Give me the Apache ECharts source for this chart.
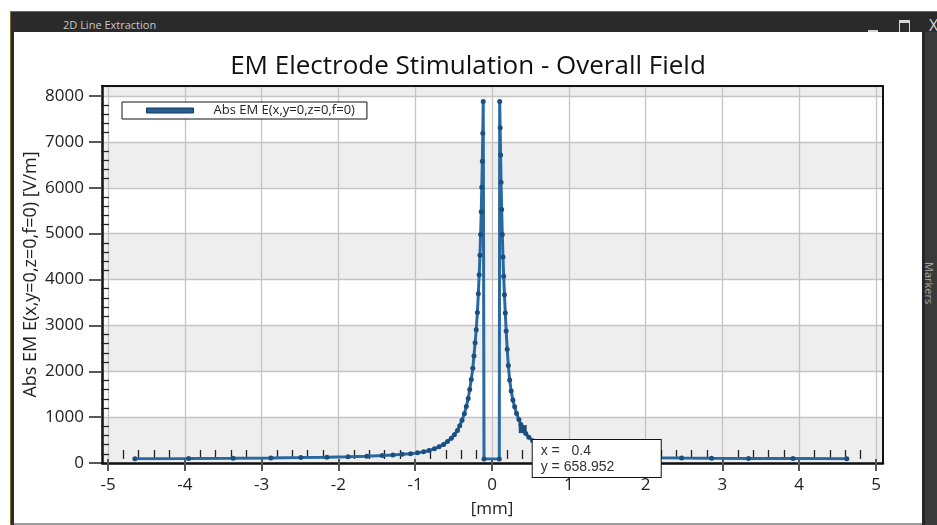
<!DOCTYPE html>
<html>
<head>
<meta charset="utf-8">
<title>2D Line Extraction</title>
<script src="https://cdn.jsdelivr.net/npm/echarts@6/dist/echarts.min.js"></script>
<style>
html, body { margin: 0; padding: 0; width: 937px; height: 525px; overflow: hidden; background: #fff; font-family: "Open Sans", sans-serif; }
#frame { position: absolute; left: 10px; top: 11px; width: 927px; height: 514px; background: #2a2a2a; border-top: 1px solid #7a6f2e; border-left: 1px solid #7a6f2e; box-sizing: border-box; }
#caption { position: absolute; left: 63px; top: 17px; color: #c8c8c8; font-size: 11px; }
#btnMin { position: absolute; left: 868px; top: 30px; width: 10px; height: 2px; background: #d6d6d6; }
#btnMax { position: absolute; left: 899px; top: 20px; width: 9px; height: 9px; border: 1.5px solid #d6d6d6; border-top-width: 3px; }
#btnClose { position: absolute; left: 929px; top: 14px; color: #d6d6d6; font-size: 16px; }
#side { position: absolute; left: 922px; top: 32px; width: 15px; height: 493px; background: #3a3a3a; border-left: 3px solid #262626; box-sizing: border-box; }
#sideText { position: absolute; left: 937px; top: 262px; transform-origin: 0 0; transform: rotate(90deg); color: #a8a8a8; font-size: 11px; white-space: nowrap; }
#main { position: absolute; left: 14px; top: 32px; width: 908px; height: 491px; background: #fff; }
#bottomLine { position: absolute; left: 14px; top: 523px; width: 908px; height: 2px; background: #9c9c9c; }
</style>
</head>
<body>
<div id="frame"></div>
<div id="caption">2D Line Extraction</div>
<div id="btnMin"></div>
<div id="btnMax"></div>
<div id="btnClose">X</div>
<div id="side"></div>
<div id="sideText">Markers</div>
<div id="main"></div>
<div id="bottomLine"></div>
<script>
var chartTitle = 'EM Electrode Stimulation - Overall Field';
var seriesName = 'Abs EM E(x,y=0,z=0,f=0)';
var yName = 'Abs EM E(x,y=0,z=0,f=0) [V/m]';
var xName = '[mm]';

// positions along the line [mm]
var xValues = [
    -4.65, -3.95, -3.37, -2.88, -2.49, -2.15, -1.875, -1.63, -1.43, -1.29,
    -1.17, -1.06, -0.97, -0.89, -0.82, -0.75, -0.69, -0.63, -0.58, -0.53,
    -0.49, -0.45, -0.42, -0.39, -0.36, -0.335, -0.31, -0.29, -0.27, -0.25,
    -0.235, -0.22, -0.205, -0.19, -0.178, -0.167, -0.157, -0.148, -0.14, -0.133,
    -0.126, -0.12, -0.114, -0.104,
    0.095, 0.1, 0.106, 0.112, 0.118, 0.126, 0.134, 0.143, 0.152, 0.162,
    0.173, 0.185, 0.198, 0.213, 0.23, 0.25, 0.272, 0.295, 0.32, 0.35,
    0.375, 0.4, 0.44, 0.48, 0.53, 0.58, 0.63, 0.69, 0.75, 0.82,
    0.89, 0.97, 1.06, 1.17, 1.29, 1.43, 1.63, 1.875, 2.15, 2.47,
    2.86, 3.34, 3.92, 4.62
];
// |E| [V/m]
var yValues = [
    8, 12, 17, 24, 31, 40, 50, 62, 76, 89,
    103, 118, 135, 158, 188, 224, 268, 322, 385, 458,
    535, 630, 735, 855, 995, 1155, 1335, 1530, 1750, 2000,
    2270, 2560, 2850, 3230, 3640, 4060, 4490, 4950, 5450, 5990,
    6560, 7180, 7880, 0,
    0, 7880, 7300, 6700, 6100, 5500, 4950, 4450, 4030, 3620,
    3220, 2820, 2420, 2060, 1740, 1500, 1300, 1150, 1000, 870,
    760, 658.952, 560, 480, 400, 335, 285, 240, 200, 168,
    140, 118, 100, 85, 72, 60, 48, 38, 30, 24,
    18, 13, 9, 6
];
var markX = 0.4;
var markY = 658.952;

var font = '"Open Sans", sans-serif';
var pts = [];
for (var i = 0; i < xValues.length; i++) {
    pts.push([xValues[i], yValues[i]]);
}

var chart = echarts.init(document.getElementById('main'));
var option = {
    animation: false,
    title: {
        text: chartTitle,
        left: 'center',
        top: 17,
        textStyle: { fontSize: 26, fontWeight: 'normal', color: '#111', fontFamily: font }
    },
    legend: {
        left: 108,
        top: 70,
        data: [{
            name: seriesName,
            icon: 'rect',
            itemStyle: { color: '#2a5f8f', borderColor: '#123a5e', borderWidth: 1 }
        }],
        itemWidth: 47,
        itemHeight: 5,
        padding: [2, 12, 2, 24],
        backgroundColor: '#fff',
        borderColor: '#111',
        borderWidth: 1,
        borderRadius: 0,
        textStyle: { fontSize: 13, color: '#222', fontFamily: font, padding: [0, 0, 0, 15] }
    },
    grid: [
        { left: 87, right: 39, top: 54, bottom: 60 },
        { left: 94, right: 46, top: 54, bottom: 60 },
        { left: 87, right: 39, top: 64, bottom: 60 }
    ],
    xAxis: [
        {
            gridIndex: 0, type: 'value', min: -5.1, max: 5.1, z: 1,
            axisLine: { onZero: false, lineStyle: { color: '#111', width: 2.5 } },
            axisTick: { show: false }, axisLabel: { show: false }, splitLine: { show: false }
        },
        {
            gridIndex: 0, type: 'value', position: 'top', min: -5.1, max: 5.1, z: 1,
            axisLine: { onZero: false, lineStyle: { color: '#111', width: 2 } },
            axisTick: { show: false }, axisLabel: { show: false }, splitLine: { show: false }
        },
        {
            gridIndex: 1, type: 'value', min: -5, max: 5, interval: 1, z: 1,
            axisLine: { show: false, onZero: false },
            axisTick: { show: true, length: 12, lineStyle: { color: '#555', width: 2 } },
            minorTick: { show: true, splitNumber: 5, length: -9, lineStyle: { color: '#222', width: 1.3 } },
            axisLabel: { margin: 18, fontSize: 17, color: '#222', fontFamily: font },
            splitLine: { show: true, lineStyle: { color: '#c4c4c4', width: 1.3 } },
            name: xName, nameLocation: 'middle', nameGap: 42,
            nameTextStyle: { fontSize: 17, color: '#222', fontFamily: font }
        },
        { gridIndex: 2, type: 'value', min: -5.1, max: 5.1, show: false }
    ],
    yAxis: [
        {
            gridIndex: 0, type: 'value', min: 0, max: 8220, interval: 1000, z: 0,
            axisLine: { show: true, onZero: false, lineStyle: { color: '#111', width: 2.5 } },
            axisTick: { show: false }, axisLabel: { show: false },
            splitLine: { show: true, lineStyle: { color: '#c4c4c4', width: 1.3 } },
            splitArea: { show: true, areaStyle: { color: ['#eeeeee', '#ffffff'] } },
            name: yName, nameLocation: 'middle', nameGap: 62,
            nameTextStyle: { fontSize: 18, color: '#222', fontFamily: font }
        },
        {
            gridIndex: 0, type: 'value', position: 'right', min: 0, max: 8220, z: 1,
            axisLine: { show: true, onZero: false, lineStyle: { color: '#111', width: 2 } },
            axisTick: { show: false }, axisLabel: { show: false }, splitLine: { show: false }
        },
        { gridIndex: 1, type: 'value', min: 0, max: 8220, show: false },
        {
            gridIndex: 2, type: 'value', min: 0, max: 8000, interval: 1000, z: 1,
            axisLine: { show: false, onZero: false },
            axisTick: { show: true, length: 12, lineStyle: { color: '#222', width: 1.5 } },
            minorTick: { show: true, splitNumber: 5, length: -8, lineStyle: { color: '#222', width: 1.3 } },
            axisLabel: {
                margin: 17, fontSize: 17, color: '#222', fontFamily: font,
                formatter: function (v) { return String(v); }
            },
            splitLine: { show: false }
        }
    ],
    series: [{
        name: seriesName,
        type: 'line',
        xAxisIndex: 2,
        yAxisIndex: 2,
        data: pts,
        symbol: 'circle',
        symbolSize: 5,
        showSymbol: true,
        lineStyle: { color: '#2a68a0', width: 3 },
        itemStyle: { color: '#1b4f80' },
        markPoint: {
            symbol: 'rect',
            symbolSize: 8,
            itemStyle: { color: '#1b4f80' },
            data: [{ coord: [markX, markY], value: markY }],
            label: {
                show: true,
                position: [14, 15],
                formatter: 'x =   ' + markX + '\ny = ' + markY,
                backgroundColor: '#fff',
                borderColor: '#111',
                borderWidth: 1,
                padding: [3, 8, 2, 8],
                width: 112,
                lineHeight: 16,
                fontSize: 14,
                color: '#333',
                fontFamily: '"Liberation Sans", Arial, sans-serif'
            }
        }
    }]
};
chart.setOption(option);
</script>
</body>
</html>
